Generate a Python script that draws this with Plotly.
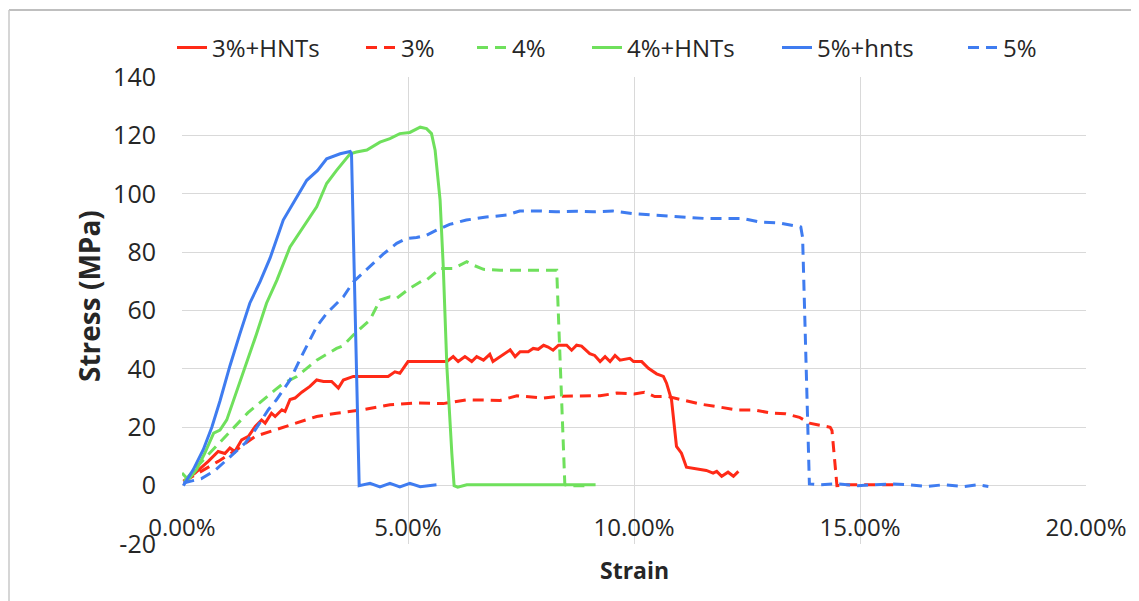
import numpy as np
import plotly.graph_objects as go

# ---- data (strain in %, stress in MPa) ----
red_solid_x = [0.03,0.29,0.58,0.8,0.95,1.06,1.17,1.32,1.47,1.62,1.76,1.84,1.98,2.06,2.21,2.28,2.39,2.5,2.65,2.83,2.98,3.13,3.31,3.46,3.57,3.79,4.56,4.71,4.82,5.0,5.86,6.0,6.11,6.26,6.41,6.52,6.67,6.81,6.88,7.04,7.26,7.37,7.48,7.66,7.77,7.88,8.0,8.1,8.21,8.33,8.51,8.62,8.73,8.84,9.02,9.13,9.25,9.36,9.47,9.58,9.69,9.91,9.99,10.17,10.32,10.5,10.65,10.72,10.83,10.94,11.05,11.16,11.46,11.6,11.75,11.83,11.94,12.08,12.2,12.31]
red_solid_y = [1.5,4.3,8.3,11.7,11,12.9,11.7,15.7,16.9,20.3,22.5,21.4,24.8,23.7,26,25.4,29.5,30,32,34,36.2,35.7,35.7,33.4,36.2,37.4,37.4,39,38.5,42.5,42.5,44.2,42.5,44.2,42.5,44.2,43,45,42.5,44.2,46.5,44.2,45.9,45.9,47,46.7,48.1,47.5,46.4,48.1,48.1,46.4,48.1,47.8,45.2,44.6,42.5,44.2,42.5,44.6,43,43.6,42.5,42.5,40.2,38.3,37.4,35.1,29.4,13.4,11.1,6.3,5.6,5.2,4.3,4.9,3.2,4.6,3.2,4.9]

red_dash_x = [0.05,0.44,0.8,1.21,1.62,2.06,2.5,2.98,3.42,4.0,4.6,5.19,5.78,6.3,7.04,7.41,8.0,8.36,9.25,9.62,10.0,10.23,10.46,10.76,11.14,11.52,11.9,12.28,12.67,13.05,13.35,13.66,13.88,14.19,14.34,14.38,14.49,14.72,15.8]
red_dash_y = [1.5,4.9,8.3,12.3,16.9,19.1,21.4,23.7,24.8,26,27.7,28.3,28.1,29.4,29.2,30.8,30,30.6,30.8,31.7,31.4,32,30.5,30.5,29.1,27.8,26.9,25.9,25.9,24.8,24.6,23.4,21.4,20.6,20,18.9,0,0.3,0.3]

green_dash_x = [0.05,0.3,0.58,0.95,1.46,2.06,2.24,2.54,2.98,3.42,3.57,3.79,4.16,4.38,4.6,4.75,5.04,5.34,5.41,5.71,6.0,6.3,6.45,6.67,7.04,8.29,8.47,8.58,9.05]
green_dash_y = [1.5,6,10.6,16.8,25,32.8,35,37.4,43,47,48,51.6,56.8,63.6,64.7,64.2,67.6,70.4,70.4,74.4,74.4,76.7,75.5,74.1,73.8,73.8,0.3,0,0]

green_solid_x = [0,0.14,0.32,0.5,0.7,0.84,0.99,1.2,1.43,1.65,1.87,2.1,2.39,2.68,2.98,3.2,3.42,3.72,3.86,4.09,4.38,4.6,4.82,5.04,5.27,5.41,5.52,5.6,5.71,5.78,5.86,5.97,6.02,6.1,6.3,9.15]
green_solid_y = [4.3,2,5.5,11,18,19,22.5,31.7,42,52,62.5,70.4,81.8,88.7,95.5,103.5,108,113.7,114.3,115,117.7,118.9,120.6,121,122.8,122.3,120.6,114.9,97.8,75,40.8,11,0,-0.5,0.3,0.3]

blue_solid_x = [0.03,0.25,0.47,0.66,0.84,1.06,1.28,1.5,1.73,1.95,2.24,2.54,2.76,3.0,3.2,3.5,3.72,3.75,3.92,4.16,4.38,4.6,4.82,5.04,5.27,5.63]
blue_solid_y = [0,5.5,12.3,20,29,41,52,62.5,70,78,91,99,104.6,108,112,113.7,114.5,113.7,0,0.8,-0.4,0.8,-0.4,0.8,-0.4,0.3]

blue_dash_x = [0.03,0.43,0.73,0.95,1.17,1.4,1.62,1.91,2.09,2.39,2.68,2.98,3.2,3.57,3.79,4.16,4.45,4.75,4.97,5.19,5.41,5.63,5.92,6.29,6.73,7.18,7.47,7.91,8.28,8.72,9.09,9.53,9.97,10.42,10.86,11.3,11.6,12.04,12.41,12.78,13.22,13.58,13.69,13.73,13.88,14.11,14.49,14.95,15.33,15.71,16.1,16.47,16.85,17.3,17.6,17.84]
blue_dash_y = [0.9,2.4,5.2,8.3,11.1,14.6,19.1,26,29.4,36.2,45.4,54.5,59,64.7,69.8,75,79.3,83,84.7,85,85.8,87.5,89.5,91,92,92.7,94.1,94.1,93.8,94,93.8,94.1,93.2,92.7,92.3,92,91.5,91.5,91.5,90.3,90,88.9,88.6,85,0.6,0.3,0.6,0,0.3,0.6,0.3,-0.3,0.3,-0.3,0.3,-0.3]

series_names = ["3%+HNTs", "3%", "4%", "4%+HNTs", "5%+hnts", "5%"]
y_ticks = [-20, 0, 20, 40, 60, 80, 100, 120, 140]
y_tick_text = ["-20", "0", "20", "40", "60", "80", "100", "120", "140"]
x_ticks = [0, 5, 10, 15, 20]

RED = "#FF2A17"
GREEN = "#6FE05C"
BLUE = "#3F7CF0"
DASH = "11px,7px"

series = [
    (series_names[0], red_solid_x, red_solid_y, RED, "solid"),
    (series_names[1], red_dash_x, red_dash_y, RED, DASH),
    (series_names[2], green_dash_x, green_dash_y, GREEN, DASH),
    (series_names[3], green_solid_x, green_solid_y, GREEN, "solid"),
    (series_names[4], blue_solid_x, blue_solid_y, BLUE, "solid"),
    (series_names[5], blue_dash_x, blue_dash_y, BLUE, DASH),
]

# page body margin offset (browser default 8px)
OFF = 8
W, H = 1139 - OFF, 601 - OFF
# plot area in screenshot pixels
SL, SR, ST, SB = 182, 1086, 77, 544
L, R, T, B = SL - OFF, SR - OFF, ST - OFF, SB - OFF
pw, ph = R - L, B - T

def sx(p):
    return (p - OFF - L) / pw

def sy(p):
    return (B - (p - OFF)) / ph

legend_text_px = [212, 401, 512, 627, 817, 1003]

fig = go.Figure()
layout_legends = {}
for i, (name, xs, ys, col, dash) in enumerate(series):
    lg = "legend" if i == 0 else f"legend{i+1}"
    fig.add_trace(go.Scatter(
        x=np.array(xs) / 100.0, y=ys, mode="lines", name=name,
        line=dict(color=col, width=3, dash=dash),
        legend=lg,
    ))
    layout_legends[lg] = dict(
        x=sx(legend_text_px[i] - 40), xanchor="left",
        y=sy(48), yanchor="middle",
        orientation="h", bgcolor="rgba(0,0,0,0)",
        font=dict(family="Open Sans", size=24, color="#262626"),
        itemwidth=30, tracegroupgap=0,
    )

fig.update_layout(
    width=W, height=H,
    margin=dict(l=L, r=W - R, t=T, b=H - B, autoexpand=False),
    paper_bgcolor="white", plot_bgcolor="white",
    font=dict(family="Open Sans", size=24, color="#262626"),
    showlegend=True,
    **layout_legends,
)

fig.update_xaxes(
    range=[0, 0.2], tickvals=[v / 100 for v in x_ticks], tickformat=".2%",
    showgrid=True, gridcolor="#D9D9D9", gridwidth=1,
    zeroline=False, showline=False,
    anchor="free", position=20 / 160,
    ticks="", ticklabelstandoff=25,
    tickfont=dict(family="Open Sans", size=24, color="#262626"),
)
fig.update_yaxes(
    range=[-20, 140], tickvals=y_ticks, ticktext=y_tick_text,
    showgrid=True, gridcolor="#D9D9D9", gridwidth=1,
    zeroline=True, zerolinecolor="#D9D9D9", zerolinewidth=1,
    showline=False, ticks="", ticklabelstandoff=25,
    tickfont=dict(family="Open Sans", size=25, color="#262626"),
)

fig.add_annotation(text="<b>Stress (MPa)</b>", xref="paper", yref="paper",
                   x=sx(89), y=sy(296), xanchor="center", yanchor="middle",
                   textangle=-90, showarrow=False,
                   font=dict(family="Open Sans", size=28, color="#262626"))
fig.add_annotation(text="<b>Strain</b>", xref="paper", yref="paper",
                   x=sx(634), y=sy(570), xanchor="center", yanchor="middle",
                   showarrow=False, font=dict(family="Open Sans", size=23, color="#262626"))

# outer chart frame (left and top edges)
fig.add_shape(type="line", xref="paper", yref="paper",
              x0=sx(9), x1=sx(1150), y0=sy(10), y1=sy(10),
              line=dict(color="#BFBFBF", width=2))
fig.add_shape(type="line", xref="paper", yref="paper",
              x0=sx(9), x1=sx(9), y0=sy(10), y1=sy(620),
              line=dict(color="#C8C8C8", width=1.5))

fig.write_html("out.html")
